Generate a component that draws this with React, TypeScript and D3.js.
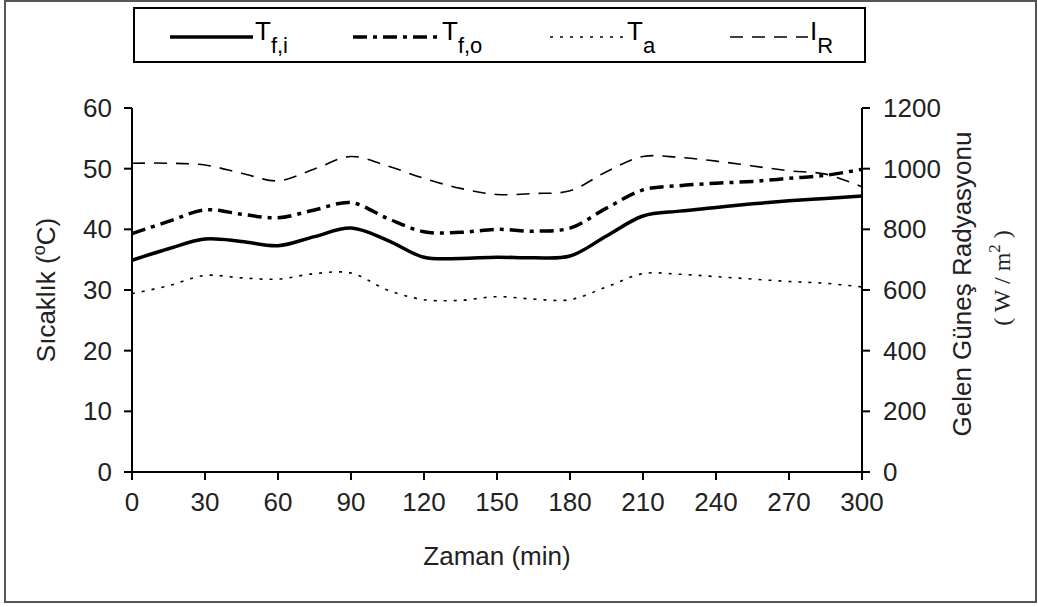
import React from 'react';
import * as d3 from 'd3';

// time axis (min)
const times = [0, 15, 30, 45, 60, 75, 90, 105, 120, 135, 150, 165, 180, 195, 210, 225, 240, 255, 270, 285, 300];

// temperatures (°C)
const tfi = [34.9, 36.8, 38.4, 38.0, 37.3, 38.8, 40.2, 38.2, 35.4, 35.2, 35.4, 35.3, 35.6, 38.9, 42.2, 43.0, 43.6, 44.2, 44.7, 45.1, 45.5];
const tfo = [39.3, 41.3, 43.2, 42.5, 41.9, 43.2, 44.4, 41.8, 39.6, 39.5, 40.0, 39.7, 40.2, 43.5, 46.5, 47.2, 47.6, 47.9, 48.4, 48.9, 49.9];
const ta = [29.4, 30.7, 32.4, 32.0, 31.8, 32.7, 32.8, 30.0, 28.4, 28.3, 28.9, 28.5, 28.4, 30.5, 32.7, 32.6, 32.2, 31.8, 31.4, 31.1, 30.5];

// solar radiation (W/m2)
const ir = [1018, 1018, 1012, 985, 960, 999, 1040, 1009, 968, 935, 915, 918, 927, 990, 1040, 1037, 1025, 1009, 993, 982, 940];

const xTicks = [0, 30, 60, 90, 120, 150, 180, 210, 240, 270, 300];
const leftTicks = [0, 10, 20, 30, 40, 50, 60];
const rightTicks = [0, 200, 400, 600, 800, 1000, 1200];

const FONT = '"Liberation Sans", Arial, sans-serif';

export default function App() {
  const width = 1038;
  const height = 607;

  const x = d3.scaleLinear().domain([0, 300]).range([132, 862]);
  const yL = d3.scaleLinear().domain([0, 60]).range([472, 108]);
  const yR = d3.scaleLinear().domain([0, 1200]).range([472, 108]);

  const curve = d3.curveCatmullRom.alpha(0.5);
  const lineL = d3.line<number>().x((_, i) => x(times[i])).y(d => yL(d)).curve(curve);
  const lineR = d3.line<number>().x((_, i) => x(times[i])).y(d => yR(d)).curve(curve);

  const series = [
    { key: 'tfi', d: lineL(tfi), width: 3.5, dash: null },
    { key: 'tfo', d: lineL(tfo), width: 3.5, dash: '14,6,4,6' },
    { key: 'ta', d: lineL(ta), width: 1.6, dash: '3,7' },
    { key: 'ir', d: lineR(ir), width: 1.6, dash: '13,9' },
  ];

  // legend entries
  const legend = [
    { x1: 170, x2: 253, width: 3.5, dash: null, main: 'T', sub: 'f,i' },
    { x1: 353, x2: 440, width: 3.5, dash: '14,6,4,6', main: 'T', sub: 'f,o' },
    { x1: 550, x2: 625, width: 1.6, dash: '3,7', main: 'T', sub: 'a' },
    { x1: 730, x2: 808, width: 1.6, dash: '13,9', main: 'I', sub: 'R' },
  ];

  return (
    <div style={{ position: 'absolute', left: 0, top: 0 }}>
      <svg width={width} height={height} style={{ display: 'block', background: '#fff' }}>
        {/* outer frame */}
        <rect x={5} y={1} width={1031} height={601} fill="none" stroke="#555" strokeWidth={2} />

        {/* legend */}
        <rect x={134} y={8} width={731} height={54} fill="#fff" stroke="#000" strokeWidth={2} />
        {legend.map((l, i) => (
          <g key={i}>
            <line x1={l.x1} x2={l.x2} y1={37} y2={37} stroke="#000" strokeWidth={l.width}
              strokeDasharray={l.dash ?? undefined} />
            <text x={l.x2 + 2} y={40} fontFamily={FONT} fontSize={26} fill="#000">
              {l.main}
              <tspan fontSize={22} dy={13}>{l.sub}</tspan>
            </text>
          </g>
        ))}

        {/* data lines */}
        {series.map(s => (
          <path key={s.key} d={s.d ?? ''} fill="none" stroke="#000" strokeWidth={s.width}
            strokeDasharray={s.dash ?? undefined} />
        ))}

        {/* left axis */}
        <line x1={132} x2={132} y1={108} y2={472} stroke="#000" strokeWidth={2} />
        {leftTicks.map(t => (
          <g key={t}>
            <line x1={124} x2={132} y1={yL(t)} y2={yL(t)} stroke="#000" strokeWidth={2} />
            <text x={112} y={yL(t)} dy="0.35em" textAnchor="end" fontFamily={FONT} fontSize={26} fill="#222">{t}</text>
          </g>
        ))}

        {/* right axis */}
        <line x1={862} x2={862} y1={108} y2={472} stroke="#000" strokeWidth={2} />
        {rightTicks.map(t => (
          <g key={t}>
            <line x1={862} x2={870} y1={yR(t)} y2={yR(t)} stroke="#000" strokeWidth={2} />
            <text x={883} y={yR(t)} dy="0.35em" textAnchor="start" fontFamily={FONT} fontSize={26} fill="#222">{t}</text>
          </g>
        ))}

        {/* bottom axis */}
        <line x1={132} x2={862} y1={472} y2={472} stroke="#000" strokeWidth={2} />
        {xTicks.map(t => (
          <g key={t}>
            <line x1={x(t)} x2={x(t)} y1={472} y2={480} stroke="#000" strokeWidth={2} />
            <text x={x(t)} y={511} textAnchor="middle" fontFamily={FONT} fontSize={26} fill="#222">{t}</text>
          </g>
        ))}

        {/* axis titles */}
        <text x={497} y={565} textAnchor="middle" fontFamily={FONT} fontSize={26} fill="#222">Zaman (min)</text>
        <text transform="translate(55,290) rotate(-90)" textAnchor="middle" fontFamily={FONT} fontSize={26} fill="#222">
          Sıcaklık (<tspan fontSize={18} dy={-10}>o</tspan><tspan dy={10}>C)</tspan>
        </text>
        <text transform="translate(971,284) rotate(-90)" textAnchor="middle" fontFamily={FONT} fontSize={26} fill="#222">
          Gelen Güneş Radyasyonu
        </text>
        <text transform="translate(1010,278) rotate(-90)" textAnchor="middle" fontFamily='"Liberation Serif", serif' fontSize={24} fill="#222">
          ( W / m<tspan fontSize={17} dy={-10}>2</tspan><tspan dy={10}> )</tspan>
        </text>
      </svg>
    </div>
  );
}
